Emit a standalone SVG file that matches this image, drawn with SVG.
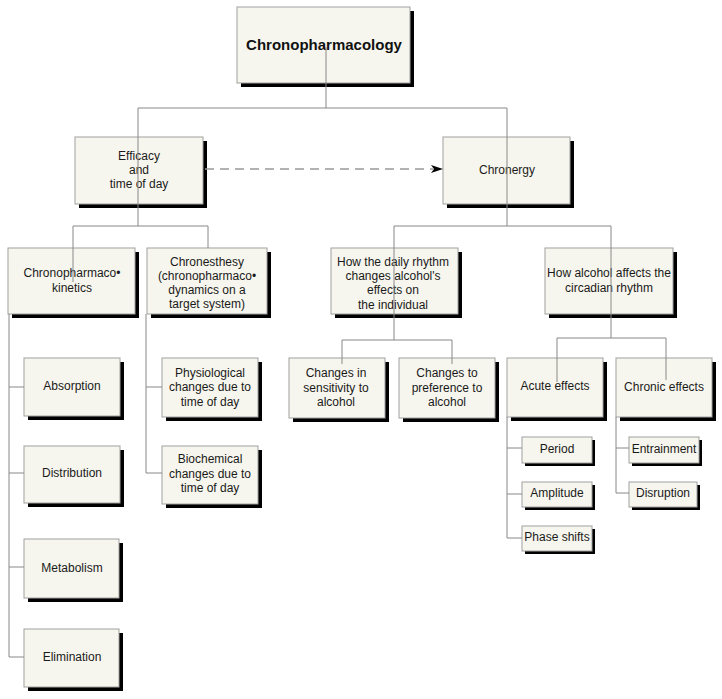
<svg xmlns="http://www.w3.org/2000/svg" width="722" height="699" viewBox="0 0 722 699">
<defs>
<style>
.box{fill:#f7f6ee;stroke:#a0a0a0;stroke-width:1}
.sh{fill:#000}
.t{font-family:"Liberation Sans",Arial,sans-serif;font-size:12px;fill:#1a1a1a;text-anchor:middle}
.tb{font-family:"Liberation Sans",Arial,sans-serif;font-size:15px;font-weight:bold;fill:#111;text-anchor:middle}
.ln{stroke:#888;stroke-width:1;fill:none}
.hl{stroke:#c4c4c4;stroke-width:2;fill:none}
.dash{stroke:#999;stroke-width:1.5;fill:none;stroke-dasharray:9 6}
</style>
<marker id="arr" markerWidth="12" markerHeight="8" refX="11" refY="4" orient="auto" markerUnits="userSpaceOnUse">
<path d="M0,0 L11,4 L0,8 L3,4 Z" fill="#000"/>
</marker>
</defs>
<rect width="722" height="699" fill="#fff"/>

<g id="n-root"><rect class="sh" x="241" y="11" width="173" height="76"/><rect class="box" x="237" y="7" width="173" height="76"/><text class="tb" x="324" y="50">Chronopharmacology</text></g>
<g id="n-efficacy"><rect class="sh" x="79" y="141" width="128" height="67"/><rect class="box" x="75" y="137" width="128" height="67"/><text class="t" x="139" y="160">Efficacy</text><text class="t" x="139" y="174">and</text><text class="t" x="139" y="188">time of day</text></g>
<g id="n-chronergy"><rect class="sh" x="447" y="141" width="127" height="67"/><rect class="box" x="443" y="137" width="127" height="67"/><text class="t" x="507" y="174">Chronergy</text></g>
<g id="n-pk"><rect class="sh" x="12" y="252" width="127" height="66"/><rect class="box" x="8" y="248" width="127" height="66"/><text class="t" x="72" y="277">Chronopharmaco•</text><text class="t" x="72" y="292">kinetics</text></g>
<g id="n-chronesthesy"><rect class="sh" x="151" y="252" width="120" height="66"/><rect class="box" x="147" y="248" width="120" height="66"/><text class="t" x="207" y="266">Chronesthesy</text><text class="t" x="207" y="280">(chronopharmaco•</text><text class="t" x="207" y="294">dynamics on a</text><text class="t" x="207" y="308">target system)</text></g>
<g id="n-daily"><rect class="sh" x="335" y="252" width="127" height="66"/><rect class="box" x="331" y="248" width="127" height="66"/><text class="t" x="393" y="266">How the daily rhythm</text><text class="t" x="393" y="280">changes alcohol's</text><text class="t" x="393" y="294">effects on</text><text class="t" x="393" y="309">the individual</text></g>
<g id="n-alcohol"><rect class="sh" x="549" y="252" width="128" height="66"/><rect class="box" x="545" y="248" width="128" height="66"/><text class="t" x="609" y="277">How alcohol affects the</text><text class="t" x="609" y="292">circadian rhythm</text></g>
<g id="n-absorption"><rect class="sh" x="28" y="362" width="96" height="58"/><rect class="box" x="24" y="358" width="96" height="58"/><text class="t" x="72" y="390">Absorption</text></g>
<g id="n-distribution"><rect class="sh" x="28" y="450" width="96" height="57"/><rect class="box" x="24" y="446" width="96" height="57"/><text class="t" x="72" y="477">Distribution</text></g>
<g id="n-metabolism"><rect class="sh" x="28" y="543" width="95" height="59"/><rect class="box" x="24" y="539" width="95" height="59"/><text class="t" x="72" y="572">Metabolism</text></g>
<g id="n-elimination"><rect class="sh" x="28" y="633" width="95" height="58"/><rect class="box" x="24" y="629" width="95" height="58"/><text class="t" x="72" y="661">Elimination</text></g>
<g id="n-physio"><rect class="sh" x="166" y="362" width="96" height="59"/><rect class="box" x="162" y="358" width="96" height="59"/><text class="t" x="210" y="377">Physiological</text><text class="t" x="210" y="391">changes due to</text><text class="t" x="210" y="406">time of day</text></g>
<g id="n-biochem"><rect class="sh" x="166" y="450" width="96" height="58"/><rect class="box" x="162" y="446" width="96" height="58"/><text class="t" x="210" y="463">Biochemical</text><text class="t" x="210" y="478">changes due to</text><text class="t" x="210" y="492">time of day</text></g>
<g id="n-sensitivity"><rect class="sh" x="293" y="362" width="96" height="60"/><rect class="box" x="289" y="358" width="96" height="60"/><text class="t" x="336" y="377">Changes in</text><text class="t" x="336" y="392">sensitivity to</text><text class="t" x="336" y="406">alcohol</text></g>
<g id="n-preference"><rect class="sh" x="403" y="362" width="96" height="60"/><rect class="box" x="399" y="358" width="96" height="60"/><text class="t" x="447" y="377">Changes to</text><text class="t" x="447" y="392">preference to</text><text class="t" x="447" y="406">alcohol</text></g>
<g id="n-acute"><rect class="sh" x="511" y="362" width="96" height="59"/><rect class="box" x="507" y="358" width="96" height="59"/><text class="t" x="555" y="390">Acute effects</text></g>
<g id="n-chronic"><rect class="sh" x="620" y="362" width="96" height="59"/><rect class="box" x="616" y="358" width="96" height="59"/><text class="t" x="664" y="391">Chronic effects</text></g>
<g id="n-period"><rect class="sh" x="525" y="440" width="70" height="26"/><rect class="box" x="522" y="437" width="70" height="26"/><text class="t" x="557" y="453">Period</text></g>
<g id="n-amplitude"><rect class="sh" x="525" y="485" width="70" height="25"/><rect class="box" x="522" y="482" width="70" height="25"/><text class="t" x="557" y="497">Amplitude</text></g>
<g id="n-phase"><rect class="sh" x="525" y="529" width="70" height="25"/><rect class="box" x="522" y="526" width="70" height="25"/><text class="t" x="557" y="541">Phase shifts</text></g>
<g id="n-entrainment"><rect class="sh" x="632" y="440" width="70" height="26"/><rect class="box" x="629" y="437" width="70" height="26"/><text class="t" x="664" y="453">Entrainment</text></g>
<g id="n-disruption"><rect class="sh" x="632" y="485" width="68" height="25"/><rect class="box" x="629" y="482" width="68" height="25"/><text class="t" x="663" y="497">Disruption</text></g>

<g id="connectors">
<path class="hl" d="M138,108 H507"/>
<path class="ln" d="M326,47 V108 M138,108 V226 M507,108 V226"/>
<path class="ln" d="M73,226 H208 M73,226 V282 M208,226 V248"/>
<path class="ln" d="M394,226 H611 M394,226 V340 M611,226 V338"/>
<path class="ln" d="M342,340 H452 M342,340 V364 M452,340 V364"/>
<path class="ln" d="M557,338 H666 M557,338 V382 M666,338 V380"/>
<path class="ln" d="M9,314 V657 M9,387 H24 M9,473 H24 M9,567 H24 M9,657 H24"/>
<path class="ln" d="M146,314 V473 M146,387 H162 M146,473 H162"/>
<path class="ln" d="M507,417 V538 M507,448 H522 M507,494 H522 M507,538 H522"/>
<path class="ln" d="M616,417 V493 M616,448 H629 M616,493 H629"/>
<path class="dash" d="M205,169 H433"/>
<path d="M431,165 L443,169 L431,173 L434,169 Z" fill="#000"/>
</g>
</svg>
